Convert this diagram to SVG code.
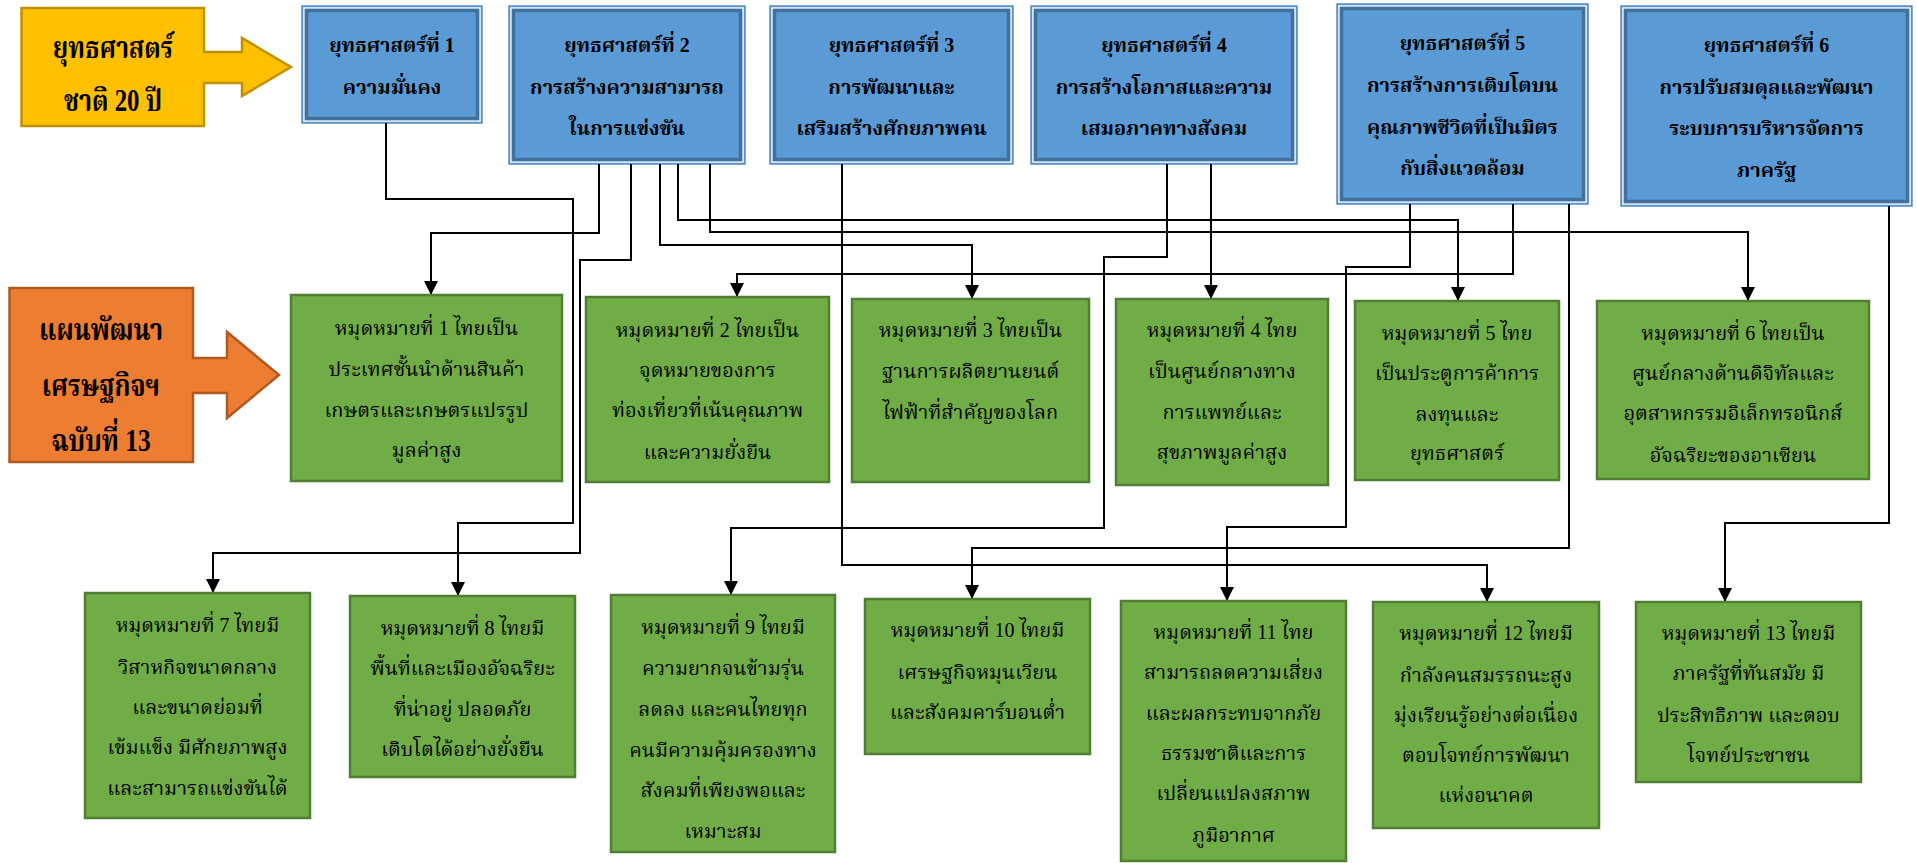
<svg xmlns="http://www.w3.org/2000/svg" width="1917" height="863" viewBox="0 0 1917 863">
<style>
.bo{fill:#5B9BD5;stroke:#5A8DC8;stroke-width:1.5}
.bw{fill:none;stroke:#FFFFFF;stroke-width:1.5}
.bi{fill:#5B9BD5;stroke:#41719C;stroke-width:3.5}
.g{fill:#70AD47;stroke:#507E32;stroke-width:2.5}
.t{font-family:"Liberation Serif","Noto Serif Thai","Noto Sans Thai",serif;text-anchor:middle;fill:#000}
.tb{font-size:20px;font-weight:bold}
.tg{font-size:20px}
.tl{font-size:31px;font-weight:bold}
.c{fill:none;stroke:#000;stroke-width:2}
</style>
<defs>
<marker id="ah" viewBox="0 0 14 14" refX="14" refY="7" markerWidth="14" markerHeight="14" markerUnits="userSpaceOnUse" orient="auto"><path d="M0,0 L14,7 L0,14 z" fill="#000"/></marker>
</defs>

<g id="national-strategy">
<polygon points="21.5,8 204,8 204,52 242,52 242,38 291,67 242,96 242,83 204,83 204,126 21.5,126" fill="#FFC000" stroke="#BF9000" stroke-width="2.5"/>
<text class="t tl" transform="translate(113,58) scale(0.8,1)">ยุทธศาสตร์</text>
<text class="t tl" transform="translate(113,111) scale(0.8,1)">ชาติ 20 ปี</text>
</g>

<g id="plan13">
<polygon points="9.5,288 193,288 193,358 227,358 227,332 279,375 227,418 227,393 193,393 193,462 9.5,462" fill="#ED7D31" stroke="#AE5A21" stroke-width="2.5"/>
<text class="t tl" transform="translate(101,340) scale(0.82,1)">แผนพัฒนา</text>
<text class="t tl" transform="translate(101,396) scale(0.82,1)">เศรษฐกิจฯ</text>
<text class="t tl" transform="translate(101,451) scale(0.82,1)">ฉบับที่ 13</text>
</g>

<g id="s1">
<rect class="bo" x="302" y="6" width="180" height="117"/>
<rect class="bw" x="304" y="8" width="176" height="113"/>
<rect class="bi" x="306.5" y="10.5" width="171" height="108"/>
<text class="t tb" x="392" y="52">ยุทธศาสตร์ที่ 1</text>
<text class="t tb" x="392" y="94">ความมั่นคง</text>
</g>
<g id="s2">
<rect class="bo" x="509" y="6" width="236" height="158"/>
<rect class="bw" x="511" y="8" width="232" height="154"/>
<rect class="bi" x="513.5" y="10.5" width="227" height="149"/>
<text class="t tb" x="627" y="52">ยุทธศาสตร์ที่ 2</text>
<text class="t tb" x="627" y="94">การสร้างความสามารถ</text>
<text class="t tb" x="627" y="135">ในการแข่งขัน</text>
</g>
<g id="s3">
<rect class="bo" x="770" y="6" width="243" height="158"/>
<rect class="bw" x="772" y="8" width="239" height="154"/>
<rect class="bi" x="774.5" y="10.5" width="234" height="149"/>
<text class="t tb" x="891.5" y="52">ยุทธศาสตร์ที่ 3</text>
<text class="t tb" x="891.5" y="94">การพัฒนาและ</text>
<text class="t tb" x="891.5" y="135">เสริมสร้างศักยภาพคน</text>
</g>
<g id="s4">
<rect class="bo" x="1031" y="6" width="266" height="158"/>
<rect class="bw" x="1033" y="8" width="262" height="154"/>
<rect class="bi" x="1035.5" y="10.5" width="257" height="149"/>
<text class="t tb" x="1164" y="52">ยุทธศาสตร์ที่ 4</text>
<text class="t tb" x="1164" y="94">การสร้างโอกาสและความ</text>
<text class="t tb" x="1164" y="135">เสมอภาคทางสังคม</text>
</g>
<g id="s5">
<rect class="bo" x="1337" y="4" width="251" height="200"/>
<rect class="bw" x="1339" y="6" width="247" height="196"/>
<rect class="bi" x="1341.5" y="8.5" width="242" height="191"/>
<text class="t tb" x="1462.5" y="50">ยุทธศาสตร์ที่ 5</text>
<text class="t tb" x="1462.5" y="92">การสร้างการเติบโตบน</text>
<text class="t tb" x="1462.5" y="134">คุณภาพชีวิตที่เป็นมิตร</text>
<text class="t tb" x="1462.5" y="175">กับสิ่งแวดล้อม</text>
</g>
<g id="s6">
<rect class="bo" x="1621" y="6" width="291" height="200"/>
<rect class="bw" x="1623" y="8" width="287" height="196"/>
<rect class="bi" x="1625.5" y="10.5" width="282" height="191"/>
<text class="t tb" x="1766.5" y="52">ยุทธศาสตร์ที่ 6</text>
<text class="t tb" x="1766.5" y="94">การปรับสมดุลและพัฒนา</text>
<text class="t tb" x="1766.5" y="135">ระบบการบริหารจัดการ</text>
<text class="t tb" x="1766.5" y="177">ภาครัฐ</text>
</g>

<g id="connectors">
<path class="c" marker-end="url(#ah)" d="M386,123 V199 H573 V523 H458 V596"/>
<path class="c" marker-end="url(#ah)" d="M599,164 V233 H431 V295"/>
<path class="c" marker-end="url(#ah)" d="M631,164 V260 H580 V553 H213 V593"/>
<path class="c" marker-end="url(#ah)" d="M660,164 V245 H972 V299"/>
<path class="c" marker-end="url(#ah)" d="M678,164 V220 H1458 V301"/>
<path class="c" marker-end="url(#ah)" d="M710,164 V232 H1748 V301"/>
<path class="c" marker-end="url(#ah)" d="M842,164 V565 H1487 V602"/>
<path class="c" marker-end="url(#ah)" d="M1167,164 V257 H1104 V528 H731 V595"/>
<path class="c" marker-end="url(#ah)" d="M1211,164 V299"/>
<path class="c" marker-end="url(#ah)" d="M1410,204 V267 H1346 V527 H1227 V601"/>
<path class="c" marker-end="url(#ah)" d="M1513,204 V274 H737 V297"/>
<path class="c" marker-end="url(#ah)" d="M1569,204 V548 H972 V599"/>
<path class="c" marker-end="url(#ah)" d="M1889,206 V523 H1725 V602"/>
</g>

<g id="m1">
<rect class="g" x="291" y="295" width="271" height="186"/>
<text class="t tg" x="426.5" y="335">หมุดหมายที่ 1 ไทยเป็น</text>
<text class="t tg" x="426.5" y="376">ประเทศชั้นนำด้านสินค้า</text>
<text class="t tg" x="426.5" y="417">เกษตรและเกษตรแปรรูป</text>
<text class="t tg" x="426.5" y="457">มูลค่าสูง</text>
</g>
<g id="m2">
<rect class="g" x="586" y="297" width="243" height="185"/>
<text class="t tg" x="707.5" y="337">หมุดหมายที่ 2 ไทยเป็น</text>
<text class="t tg" x="707.5" y="377">จุดหมายของการ</text>
<text class="t tg" x="707.5" y="417">ท่องเที่ยวที่เน้นคุณภาพ</text>
<text class="t tg" x="707.5" y="459">และความยั่งยืน</text>
</g>
<g id="m3">
<rect class="g" x="852" y="299" width="237" height="183"/>
<text class="t tg" x="970.5" y="337">หมุดหมายที่ 3 ไทยเป็น</text>
<text class="t tg" x="970.5" y="378">ฐานการผลิตยานยนต์</text>
<text class="t tg" x="970.5" y="419">ไฟฟ้าที่สำคัญของโลก</text>
</g>
<g id="m4">
<rect class="g" x="1116" y="299" width="212" height="186"/>
<text class="t tg" x="1222" y="337">หมุดหมายที่ 4 ไทย</text>
<text class="t tg" x="1222" y="378">เป็นศูนย์กลางทาง</text>
<text class="t tg" x="1222" y="419">การแพทย์และ</text>
<text class="t tg" x="1222" y="459">สุขภาพมูลค่าสูง</text>
</g>
<g id="m5">
<rect class="g" x="1355" y="301" width="204" height="179"/>
<text class="t tg" x="1457" y="340">หมุดหมายที่ 5 ไทย</text>
<text class="t tg" x="1457" y="380">เป็นประตูการค้าการ</text>
<text class="t tg" x="1457" y="421">ลงทุนและ</text>
<text class="t tg" x="1457" y="460">ยุทธศาสตร์</text>
</g>
<g id="m6">
<rect class="g" x="1597" y="301" width="272" height="178"/>
<text class="t tg" x="1733" y="340">หมุดหมายที่ 6 ไทยเป็น</text>
<text class="t tg" x="1733" y="380">ศูนย์กลางด้านดิจิทัลและ</text>
<text class="t tg" x="1733" y="420">อุตสาหกรรมอิเล็กทรอนิกส์</text>
<text class="t tg" x="1733" y="462">อัจฉริยะของอาเซียน</text>
</g>
<g id="m7">
<rect class="g" x="85" y="593" width="225" height="225"/>
<text class="t tg" x="197.5" y="632">หมุดหมายที่ 7 ไทยมี</text>
<text class="t tg" x="197.5" y="674">วิสาหกิจขนาดกลาง</text>
<text class="t tg" x="197.5" y="714">และขนาดย่อมที่</text>
<text class="t tg" x="197.5" y="754">เข้มแข็ง มีศักยภาพสูง</text>
<text class="t tg" x="197.5" y="795">และสามารถแข่งขันได้</text>
</g>
<g id="m8">
<rect class="g" x="350" y="596" width="225" height="181"/>
<text class="t tg" x="462.5" y="635">หมุดหมายที่ 8 ไทยมี</text>
<text class="t tg" x="462.5" y="675">พื้นที่และเมืองอัจฉริยะ</text>
<text class="t tg" x="462.5" y="716">ที่น่าอยู่ ปลอดภัย</text>
<text class="t tg" x="462.5" y="756">เติบโตได้อย่างยั่งยืน</text>
</g>
<g id="m9">
<rect class="g" x="611" y="595" width="224" height="257"/>
<text class="t tg" x="723" y="634">หมุดหมายที่ 9 ไทยมี</text>
<text class="t tg" x="723" y="675">ความยากจนข้ามรุ่น</text>
<text class="t tg" x="723" y="716">ลดลง และคนไทยทุก</text>
<text class="t tg" x="723" y="757">คนมีความคุ้มครองทาง</text>
<text class="t tg" x="723" y="797">สังคมที่เพียงพอและ</text>
<text class="t tg" x="723" y="838">เหมาะสม</text>
</g>
<g id="m10">
<rect class="g" x="865" y="599" width="225" height="155"/>
<text class="t tg" x="977.5" y="637">หมุดหมายที่ 10 ไทยมี</text>
<text class="t tg" x="977.5" y="679">เศรษฐกิจหมุนเวียน</text>
<text class="t tg" x="977.5" y="719">และสังคมคาร์บอนต่ำ</text>
</g>
<g id="m11">
<rect class="g" x="1121" y="601" width="225" height="260"/>
<text class="t tg" x="1233.5" y="639">หมุดหมายที่ 11 ไทย</text>
<text class="t tg" x="1233.5" y="679">สามารถลดความเสี่ยง</text>
<text class="t tg" x="1233.5" y="720">และผลกระทบจากภัย</text>
<text class="t tg" x="1233.5" y="760">ธรรมชาติและการ</text>
<text class="t tg" x="1233.5" y="800">เปลี่ยนแปลงสภาพ</text>
<text class="t tg" x="1233.5" y="842">ภูมิอากาศ</text>
</g>
<g id="m12">
<rect class="g" x="1373" y="602" width="226" height="226"/>
<text class="t tg" x="1486" y="640">หมุดหมายที่ 12 ไทยมี</text>
<text class="t tg" x="1486" y="682">กำลังคนสมรรถนะสูง</text>
<text class="t tg" x="1486" y="722">มุ่งเรียนรู้อย่างต่อเนื่อง</text>
<text class="t tg" x="1486" y="762">ตอบโจทย์การพัฒนา</text>
<text class="t tg" x="1486" y="802">แห่งอนาคต</text>
</g>
<g id="m13">
<rect class="g" x="1636" y="602" width="225" height="180"/>
<text class="t tg" x="1748.5" y="640">หมุดหมายที่ 13 ไทยมี</text>
<text class="t tg" x="1748.5" y="680">ภาครัฐที่ทันสมัย มี</text>
<text class="t tg" x="1748.5" y="722">ประสิทธิภาพ และตอบ</text>
<text class="t tg" x="1748.5" y="762">โจทย์ประชาชน</text>
</g>
</svg>
